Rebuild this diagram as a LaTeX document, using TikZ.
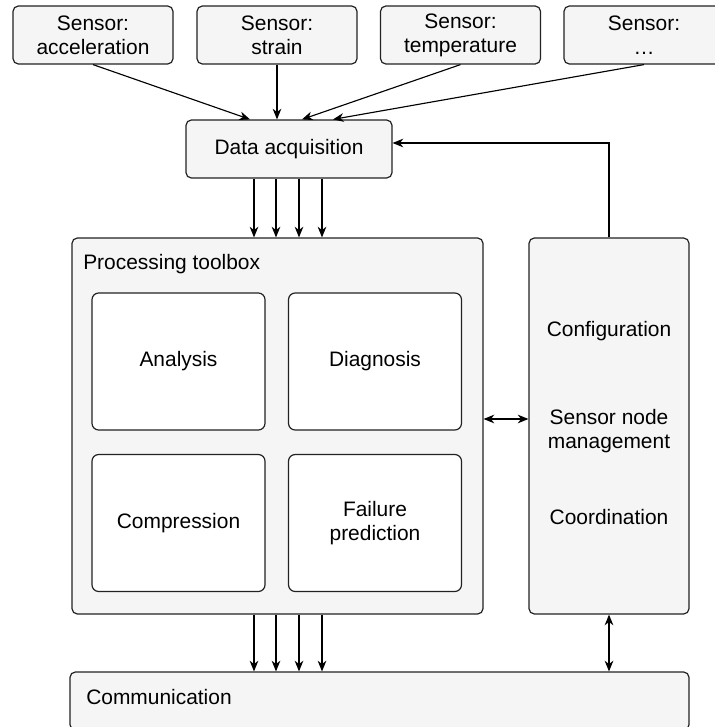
\documentclass[tikz,border=0pt]{standalone}
\usepackage{fontspec}
\setmainfont{Liberation Sans}
\usetikzlibrary{arrows.meta}

\definecolor{boxfill}{HTML}{F5F5F5}
\definecolor{boxline}{HTML}{222222}

\tikzset{
  block/.style={draw=boxline, fill=boxfill, rounded corners=4pt, line width=0.9pt, align=center, inner sep=0pt},
  sensorbox/.style={block, minimum width=120pt, minimum height=43.5pt},
  taskbox/.style={block, fill=white, rounded corners=5pt, minimum width=129.75pt, minimum height=102.75pt},
  tip/.tip={Stealth[length=8pt,width=6.5pt,inset=2.5pt]},
  link/.style={-tip, line width=0.85pt},
  duplex/.style={tip-tip, line width=0.85pt}
}

\begin{document}
\begin{tikzpicture}[x=0.75pt, y=-0.75pt, font=\fontsize{15.7}{18}\selectfont]
\useasboundingbox (0,0) rectangle (714,727);

% sensors along the top
\node[sensorbox] (acc) at (93,35) {Sensor:\\acceleration};
\node[sensorbox] (strain) at (277,35) {Sensor:\\strain};
\node[sensorbox] (temp) at (460.5,35) {Sensor:\\temperature};
\node[sensorbox] (other) at (644,35) {Sensor:\\…};

\node[block, minimum width=154.5pt, minimum height=43.5pt] (daq) at (289,149) {Data acquisition};

% processing toolbox with its four tasks
\node[block, minimum width=308.25pt, minimum height=282pt] (proc) at (277.5,426) {};
\node[anchor=west, inner sep=0pt] (proclabel) at (83,264) {Processing toolbox};
\node[taskbox] (analysis) at (178.5,361.5) {Analysis};
\node[taskbox] (diagnosis) at (375,361.5) {Diagnosis};
\node[taskbox] (compress) at (178.5,523) {Compression};
\node[taskbox] (failure) at (375,523) {Failure\\prediction};

% management column
\node[block, minimum width=120pt, minimum height=282pt] (ctrl) at (609,426) {};
\node (config) at (609,331) {Configuration};
\node[align=center] (nodemgmt) at (609,431) {Sensor node\\management};
\node (coord) at (609,517) {Coordination};

\node[block, minimum width=464.25pt, minimum height=43.5pt] (comm) at (379.5,701) {};
\node[anchor=west, inner sep=0pt] (commlabel) at (86,697) {Communication};

% sensor inputs
\draw[link] (acc.south) -- ([xshift=-29.25pt]daq.north);
\draw[link] (strain.south) -- (strain.south |- daq.north);
\draw[link] (temp.south) -- ([xshift=9.75pt]daq.north);
\draw[link] (other.south) -- ([xshift=33pt]daq.north);

% data channels
\foreach \dx in {-35,-13,10,33} {
  \draw[link] ([xshift=\dx*0.75pt]daq.south) -- ([xshift=\dx*0.75pt]daq.south |- proc.north);
  \draw[link] ([xshift=\dx*0.75pt]daq.south |- proc.south) -- ([xshift=\dx*0.75pt]daq.south |- comm.north);
}

% control paths
\draw[link] (ctrl.north) |- ([yshift=4.5pt]daq.east);
\draw[duplex] ([yshift=5.25pt]proc.east) -- ([yshift=5.25pt]proc.east -| ctrl.west);
\draw[duplex] (ctrl.south) -- (ctrl.south |- comm.north);
\end{tikzpicture}
\end{document}
